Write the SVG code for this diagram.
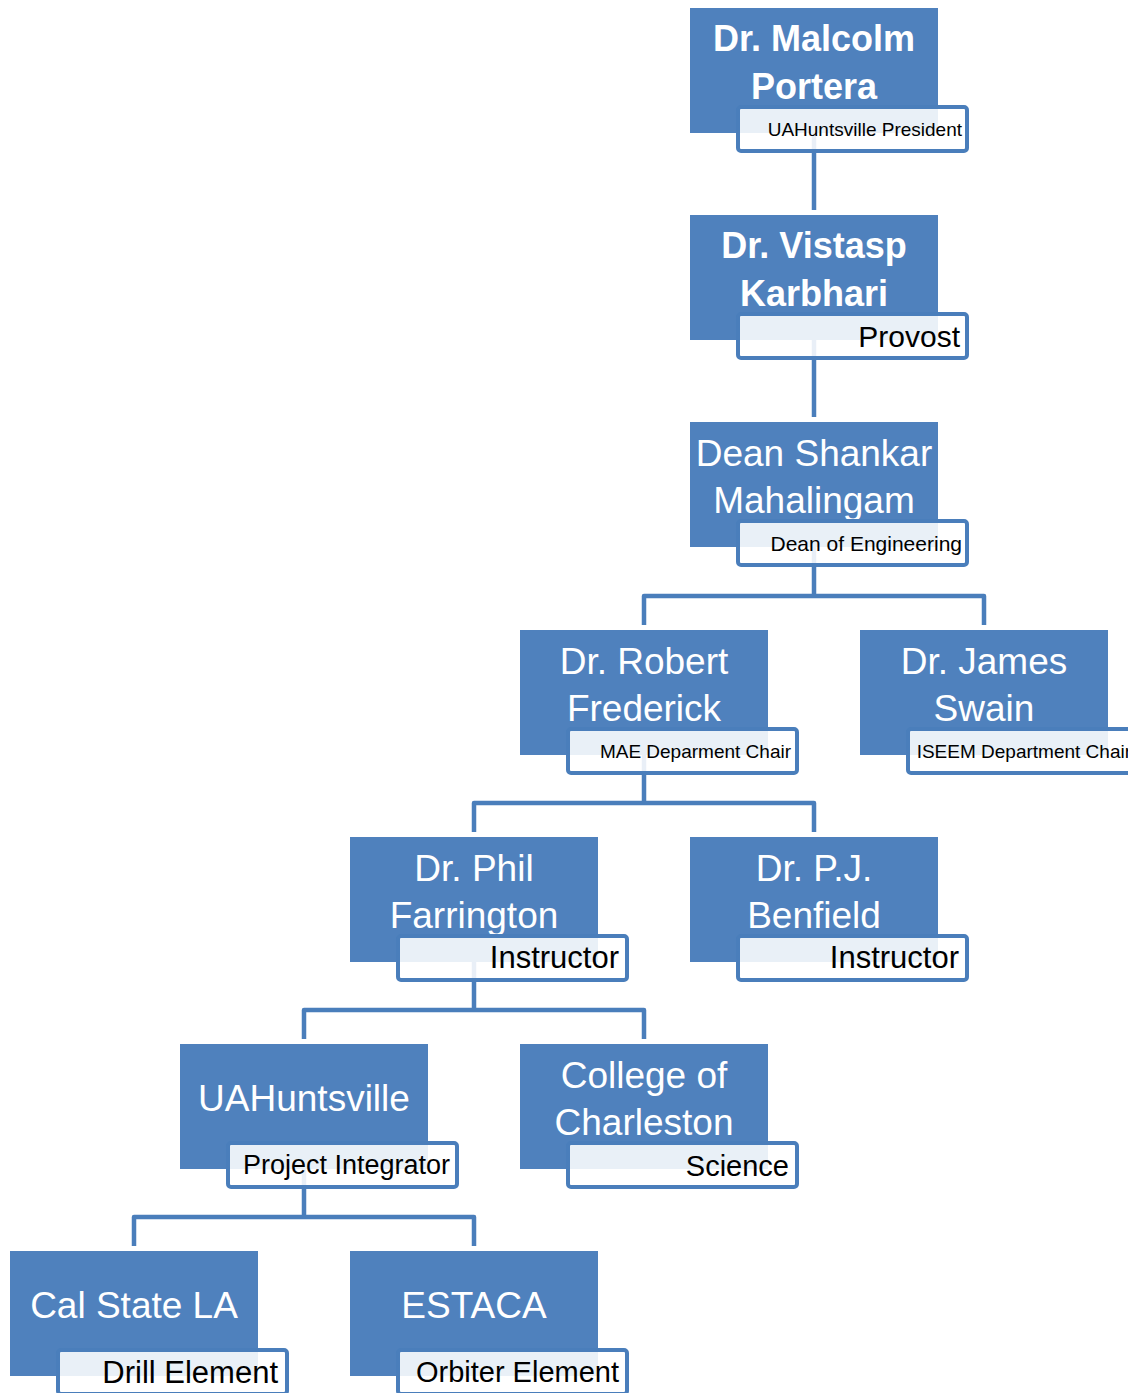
<svg xmlns="http://www.w3.org/2000/svg" width="1128" height="1393" viewBox="0 0 1128 1393">
<style>
.box{fill:#4F81BD}
.sub{fill:#FFFFFF;fill-opacity:0.88;stroke:#4A7EBB;stroke-width:4}
.conn{fill:none;stroke:#4A7EBB;stroke-width:4.5;stroke-linejoin:round}
.t{font-family:"Liberation Sans",Arial,sans-serif;fill:#FFFFFF;text-anchor:middle;font-size:37px}
.tb{font-weight:bold;font-size:36px}
.s{font-family:"Liberation Sans",Arial,sans-serif;fill:#000000;text-anchor:end}
</style>
<rect width="1128" height="1393" fill="#FFFFFF"/>
<g id="connectors">
<path class="conn" d="M814 133V210"/>
<path class="conn" d="M814 340V417"/>
<path class="conn" d="M814 547V596M644 625V596H984V625"/>
<path class="conn" d="M644 755V803M474 832V803H814V832"/>
<path class="conn" d="M474 962V1010M304 1039V1010H644V1039"/>
<path class="conn" d="M304 1169V1217M134 1246V1217H474V1246"/>
</g>
<g id="node-portera">
<rect class="box" x="690" y="8" width="248" height="125"/>
<text class="t tb" x="814" y="51">Dr. Malcolm</text>
<text class="t tb" x="814" y="99">Portera</text>
<rect class="sub" x="738" y="107" width="229" height="44" rx="3"/>
<text class="s" x="962" y="136" font-size="19">UAHuntsville President</text>
</g>
<g id="node-karbhari">
<rect class="box" x="690" y="215" width="248" height="125"/>
<text class="t tb" x="814" y="258">Dr. Vistasp</text>
<text class="t tb" x="814" y="306">Karbhari</text>
<rect class="sub" x="738" y="314" width="229" height="44" rx="3"/>
<text class="s" x="960" y="347" font-size="30">Provost</text>
</g>
<g id="node-mahalingam">
<rect class="box" x="690" y="422" width="248" height="125"/>
<text class="t" x="814" y="466">Dean Shankar</text>
<text class="t" x="814" y="513">Mahalingam</text>
<rect class="sub" x="738" y="521" width="229" height="44" rx="3"/>
<text class="s" x="962" y="551" font-size="21">Dean of Engineering</text>
</g>
<g id="node-frederick">
<rect class="box" x="520" y="630" width="248" height="125"/>
<text class="t" x="644" y="674">Dr. Robert</text>
<text class="t" x="644" y="721">Frederick</text>
<rect class="sub" x="568" y="729" width="229" height="44" rx="3"/>
<text class="s" x="791" y="758" font-size="19">MAE Deparment Chair</text>
</g>
<g id="node-swain">
<rect class="box" x="860" y="630" width="248" height="125"/>
<text class="t" x="984" y="674">Dr. James</text>
<text class="t" x="984" y="721">Swain</text>
<rect class="sub" x="908" y="729" width="229" height="44" rx="3"/>
<text class="s" x="1131" y="758" font-size="19">ISEEM Department Chair</text>
</g>
<g id="node-farrington">
<rect class="box" x="350" y="837" width="248" height="125"/>
<text class="t" x="474" y="881">Dr. Phil</text>
<text class="t" x="474" y="928">Farrington</text>
<rect class="sub" x="398" y="936" width="229" height="44" rx="3"/>
<text class="s" x="619" y="968" font-size="31">Instructor</text>
</g>
<g id="node-benfield">
<rect class="box" x="690" y="837" width="248" height="125"/>
<text class="t" x="814" y="881">Dr. P.J.</text>
<text class="t" x="814" y="928">Benfield</text>
<rect class="sub" x="738" y="936" width="229" height="44" rx="3"/>
<text class="s" x="959" y="968" font-size="31">Instructor</text>
</g>
<g id="node-uahuntsville">
<rect class="box" x="180" y="1044" width="248" height="125"/>
<text class="t" x="304" y="1111">UAHuntsville</text>
<rect class="sub" x="228" y="1143" width="229" height="44" rx="3"/>
<text class="s" x="450" y="1174" font-size="27">Project Integrator</text>
</g>
<g id="node-charleston">
<rect class="box" x="520" y="1044" width="248" height="125"/>
<text class="t" x="644" y="1088">College of</text>
<text class="t" x="644" y="1135">Charleston</text>
<rect class="sub" x="568" y="1143" width="229" height="44" rx="3"/>
<text class="s" x="789" y="1176" font-size="29">Science</text>
</g>
<g id="node-calstate">
<rect class="box" x="10" y="1251" width="248" height="125"/>
<text class="t" x="134" y="1318">Cal State LA</text>
<rect class="sub" x="58" y="1350" width="229" height="44" rx="3"/>
<text class="s" x="278" y="1383" font-size="31">Drill Element</text>
</g>
<g id="node-estaca">
<rect class="box" x="350" y="1251" width="248" height="125"/>
<text class="t" x="474" y="1318">ESTACA</text>
<rect class="sub" x="398" y="1350" width="229" height="44" rx="3"/>
<text class="s" x="619" y="1382" font-size="29">Orbiter Element</text>
</g>
</svg>
